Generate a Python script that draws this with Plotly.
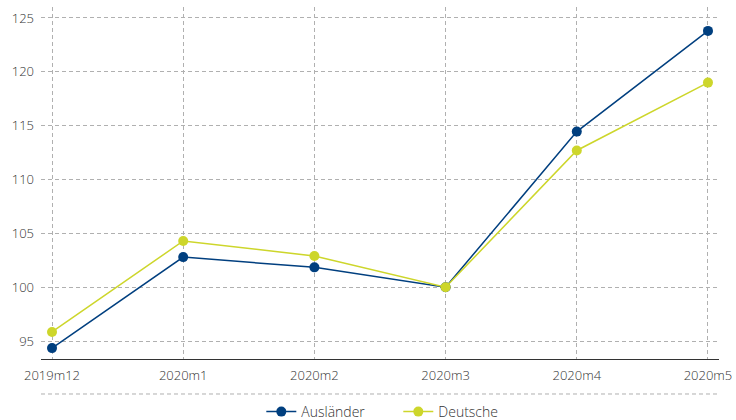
import plotly.graph_objects as go

categories = ["2019m12", "2020m1", "2020m2", "2020m3", "2020m4", "2020m5"]
auslaender = [94.35, 102.8, 101.85, 100.0, 114.45, 123.8]
deutsche = [95.85, 104.3, 102.9, 100.0, 112.7, 119.0]
y_ticks = [95, 100, 105, 110, 115, 120, 125]

fig = go.Figure()
fig.add_trace(go.Scatter(x=categories, y=auslaender, name="Ausländer", mode="lines+markers",
                         line=dict(color="#003f7f", width=1.5), marker=dict(size=10, color="#003f7f")))
fig.add_trace(go.Scatter(x=categories, y=deutsche, name="Deutsche", mode="lines+markers",
                         line=dict(color="#cdd62b", width=1.5), marker=dict(size=10, color="#cdd62b")))

grid = dict(showgrid=True, gridcolor="#b0b0b0", griddash="4px,3px", gridwidth=1, zeroline=False)
fig.update_layout(
    width=736, height=420,
    margin=dict(l=41, r=17, t=7, b=61, autoexpand=False),
    paper_bgcolor="white", plot_bgcolor="white",
    font=dict(family="Open Sans", size=13, color="#333", weight=300),
    xaxis=dict(type="category", range=[-0.084, 5.084], showline=True, linecolor="#333", linewidth=1,
               ticks="", ticklabelstandoff=4, **grid),
    yaxis=dict(range=[93.34, 126.02], tickvals=y_ticks, showline=False, ticks="",
               ticklabelstandoff=6, **grid),
    legend=dict(orientation="h", x=0.527, xanchor="center", y=-0.1506, yanchor="middle",
                font=dict(size=14, color="#333", weight=300), entrywidth=92, entrywidthmode="pixels"),
    showlegend=True,
)
fig.add_shape(type="line", xref="paper", yref="paper", x0=0, x1=1, y0=-0.0994, y1=-0.0994,
              line=dict(color="#b0b0b0", width=1, dash="4px,3px"))
fig.write_html("out.html")
